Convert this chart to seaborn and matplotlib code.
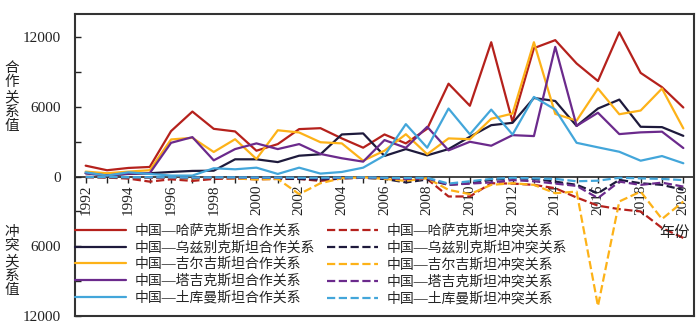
import numpy as np
import pandas as pd
import seaborn as sns
import matplotlib
matplotlib.use('Agg')
import matplotlib.pyplot as plt

years = list(range(1992, 2021))

kaz_coop = [943, 548, 746, 831, 3917, 5600, 4114, 3890, 2230, 2800, 4090, 4170, 3290, 2490,
            3630, 2860, 4120, 8000, 6100, 11570, 4710, 11060, 11750, 9740, 8230, 12420, 8930, 7700, 5950]
uzb_coop = [290, 100, 230, 290, 400, 490, 510, 1490, 1490, 1250, 1800, 1920, 3630, 3720,
            1780, 2370, 1830, 2370, 3430, 4430, 4630, 6770, 6510, 4360, 5860, 6630, 4290, 4260, 3510]
kgz_coop = [430, 290, 430, 550, 3200, 3340, 2120, 3220, 1520, 3990, 3800, 2960, 2860, 1370,
            2230, 3650, 1930, 3290, 3220, 4980, 5430, 11570, 5400, 4820, 7580, 5370, 5690, 7580, 4150]
tjk_coop = [290, 100, 260, 290, 2910, 3400, 1400, 2370, 2860, 2370, 2800, 1950, 1580, 1290,
            3145, 2480, 4290, 2260, 3000, 2660, 3570, 3490, 11170, 4370, 5500, 3660, 3810, 3870, 2460]
tkm_coop = [370, 90, 370, 230, 90, 90, 720, 630, 770, 230, 770, 260, 400, 770,
            1820, 4520, 2490, 5860, 3640, 5770, 3620, 6860, 5770, 2910, 2520, 2140, 1370, 1770, 1150]

kaz_conf = [-30, -80, -170, -430, -230, -370, -200, -170, -230, -200, -200, -370, -140, -100,
            -150, -250, -200, -1710, -1710, -570, -600, -710, -1000, -1800, -2500, -2800, -3000, -4420, -5280]
uzb_conf = [-50, -50, -100, -100, -100, -150, -100, -100, -150, -150, -200, -250, -150, -100,
            -200, -500, -250, -710, -570, -280, -140, -200, -430, -710, -1430, -280, -570, -710, -1140]
kgz_conf = [-30, -30, -60, -100, -100, -150, -100, -150, -250, -200, -1510, -570, -140, -60,
            -200, -370, -140, -1140, -1510, -710, -570, -710, -1430, -1290, -11140, -2140, -1290, -3650, -2140]
tjk_conf = [-30, -30, -60, -80, -80, -100, -80, -80, -100, -100, -120, -150, -100, -80,
            -120, -200, -150, -700, -600, -500, -300, -400, -600, -800, -1850, -430, -710, -520, -860]
tkm_conf = [-30, -30, -50, -50, -50, -80, -60, -60, -80, -80, -100, -100, -80, -60,
            -100, -120, -100, -600, -400, -200, -100, -150, -200, -400, -350, -100, -150, -200, -300]

coop_labels = ['中国—哈萨克斯坦合作关系', '中国—乌兹别克斯坦合作关系', '中国—吉尔吉斯坦合作关系',
               '中国—塔吉克斯坦合作关系', '中国—土库曼斯坦合作关系']
conf_labels = ['中国—哈萨克斯坦冲突关系', '中国—乌兹别克斯坦冲突关系', '中国—吉尔吉斯坦冲突关系',
               '中国—塔吉克斯坦冲突关系', '中国—土库曼斯坦冲突关系']
colors = ['#B5211C', '#1E1A3C', '#FDB218', '#6B2A8C', '#43A6DA']

ytick_vals = [-12000, -9000, -6000, -3000, 0, 3000, 6000, 9000, 12000]
xtick_labels = [str(y) if (y - 1992) % 2 == 0 else '' for y in years]

sns.set_theme(style='white')
plt.rcParams['font.family'] = ['Liberation Serif', 'Noto Sans CJK SC']
plt.rcParams['axes.unicode_minus'] = False

fig = plt.figure(figsize=(7, 3.21), dpi=100)
ax = fig.add_axes([75 / 700, 5 / 321, (694 - 75) / 700, (316 - 14) / 321])

coop_series = [kaz_coop, uzb_coop, kgz_coop, tjk_coop, tkm_coop]
conf_series = [kaz_conf, uzb_conf, kgz_conf, tjk_conf, tkm_conf]

for vals, lab, c in zip(coop_series, coop_labels, colors):
    sns.lineplot(x=years, y=vals, ax=ax, color=c, linewidth=1.6, label=lab)
for vals, lab, c in zip(conf_series, conf_labels, colors):
    sns.lineplot(x=years, y=vals, ax=ax, color=c, linewidth=1.6, linestyle='--',
                 dashes=(3.2, 1.6), label=lab)

ax.set_xlim(1991.5, 2020.5)
ax.set_ylim(-12000, 14000)
ax.set_xticks([])
ax.set_xlabel('')
ax.set_yticks(ytick_vals)
ax.set_yticklabels([str(abs(v)) if v % 6000 == 0 else '' for v in ytick_vals])
ax.tick_params(axis='y', direction='in', length=4, width=1, pad=10, labelsize=11,
               left=True, colors='#222222')
for sp in ax.spines.values():
    sp.set_color('#333333')
    sp.set_linewidth(1.5)

sec = ax.secondary_xaxis(12000 / 26000)
sec.set_xticks(years)
sec.set_xticklabels(xtick_labels, rotation=90)
sec.tick_params(axis='x', direction='out', length=4, width=1, pad=2, labelsize=11,
                bottom=True, colors='#222222')
sec.spines['bottom'].set_color('#111111')
sec.spines['bottom'].set_linewidth(1.1)

h, l = ax.get_legend_handles_labels()
leg = ax.legend(h, l, ncol=2, loc='upper left', bbox_to_anchor=(0.0, 0.305), frameon=False,
                handlelength=3.7, handletextpad=0.6, columnspacing=0.85, labelspacing=0.24,
                fontsize=10, borderaxespad=0, borderpad=0)

fig.text(12 / 700, 1 - 97 / 321, '合\n作\n关\n系\n值', ha='center', va='center',
         fontsize=10.5, linespacing=1.05, family=['Noto Sans CJK SC'], color='#222222')
fig.text(12 / 700, 1 - 261 / 321, '冲\n突\n关\n系\n值', ha='center', va='center',
         fontsize=10.5, linespacing=1.05, family=['Noto Sans CJK SC'], color='#222222')
fig.text(674 / 700, 1 - 232 / 321, '年份', ha='center', va='center', fontsize=11,
         family=['Noto Sans CJK SC'], color='#222222')

fig.savefig('out.png', dpi=100)
